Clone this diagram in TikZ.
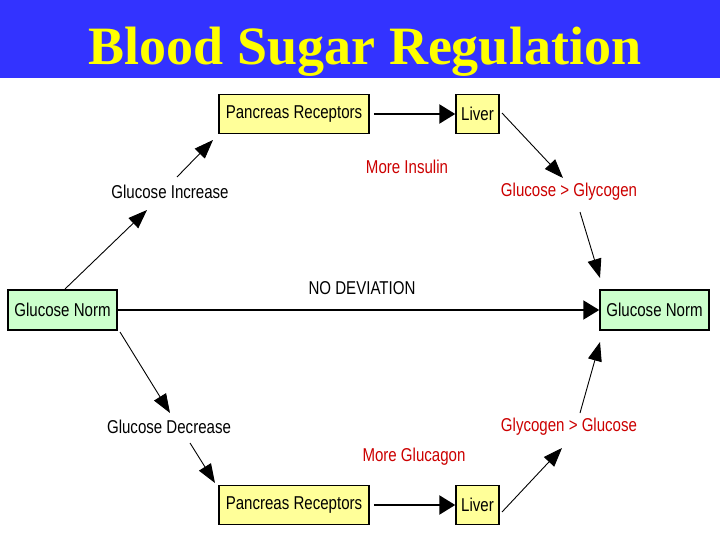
\documentclass[tikz,border=0pt]{standalone}
\usepackage{fontspec}
\setmainfont{Liberation Serif}
\newfontfamily\labfont[FakeStretch=0.81]{Liberation Sans}
\usetikzlibrary{arrows.meta}
\definecolor{barblue}{RGB}{51,51,255}
\definecolor{titleyellow}{RGB}{255,255,0}
\definecolor{boxyellow}{RGB}{255,255,153}
\definecolor{boxgreen}{RGB}{204,255,204}
\definecolor{labred}{RGB}{204,0,0}
\tikzset{
  lab/.style={font=\labfont\fontsize{18.6}{20}\selectfont, inner sep=0pt},
  redlab/.style={lab, text=labred},
  ybox/.style={draw=black, line width=1.5pt, fill=boxyellow, font=\labfont\fontsize{18.6}{20}\selectfont, inner sep=0pt, minimum height=39pt},
  gbox/.style={draw=black, line width=1.5pt, fill=boxgreen, font=\labfont\fontsize{18.6}{20}\selectfont, inner sep=0pt, minimum width=109pt, minimum height=40pt},
  thickarrow/.style={line width=2.5pt, -{Triangle[length=16pt,width=19pt]}},
  thinarrow/.style={line width=0.9pt, -{Triangle[length=19pt,width=14pt]}},
}
\begin{document}
\begin{tikzpicture}[x=1pt,y=-1pt]
\useasboundingbox (0,0) rectangle (720,540);
\fill[white] (0,0) rectangle (720,540);
\fill[barblue] (0,0) rectangle (720,78);
\node[anchor=base, text=titleyellow, font=\bfseries\fontsize{54}{60}\selectfont] (title) at (365,65) {Blood Sugar Regulation};

% boxes
\node[ybox, minimum width=150pt] (pr1) at (294,114) {Pancreas Receptors};
\node[ybox, minimum width=43pt] (lv1) at (477.5,114) {Liver};
\node[gbox] (gnl) at (62.5,310) {Glucose Norm};
\node[gbox] (gnr) at (654.5,310) {Glucose Norm};
\node[ybox, minimum width=150pt] (pr2) at (294,505) {Pancreas Receptors};
\node[ybox, minimum width=43pt] (lv2) at (477.5,505) {Liver};

% labels
\node[lab] (inc) at (170,192) {Glucose Increase};
\node[redlab] (ins) at (407,167) {More Insulin};
\node[redlab] (g2g) at (569,192) {Glucose > Glycogen};
\node[lab] (nodev) at (362,288) {NO DEVIATION};
\node[lab] (dec) at (169,427) {Glucose Decrease};
\node[redlab] (glu) at (414,457) {More Glucagon};
\node[redlab] (gg) at (569,427) {Glycogen > Glucose};

% connectors
\draw[thinarrow] ([shift={(2.5,-21)}]gnl.center) -- ([shift={(-23,18)}]inc.center);
\draw[thinarrow] ([shift={(7,-15)}]inc.center) -- ([shift={(-81,26)}]pr1.center);
\draw[thickarrow, shorten <=4pt] (pr1.east) -- (lv1.west);
\draw[thinarrow] ([shift={(24.5,-1)}]lv1.center) -- ([shift={(-6,-14)}]g2g.center);
\draw[thinarrow] ([shift={(11,20)}]g2g.center) -- ([shift={(-54.5,-32)}]gnr.center);
\draw[line width=2pt, -{Triangle[length=16pt,width=19pt]}] (gnl.east) -- (gnr.west);
\draw[thinarrow] ([shift={(57.5,22)}]gnl.center) -- ([shift={(1,-14)}]dec.center);
\draw[thinarrow] ([shift={(21,16)}]dec.center) -- ([shift={(-79,-22)}]pr2.center);
\draw[thickarrow, shorten <=4pt] (pr2.east) -- (lv2.west);
\draw[thinarrow] ([shift={(24.5,7)}]lv2.center) -- ([shift={(-7,21)}]gg.center);
\draw[thinarrow] ([shift={(11,-14)}]gg.center) -- ([shift={(-54.5,32)}]gnr.center);
\end{tikzpicture}
\end{document}
